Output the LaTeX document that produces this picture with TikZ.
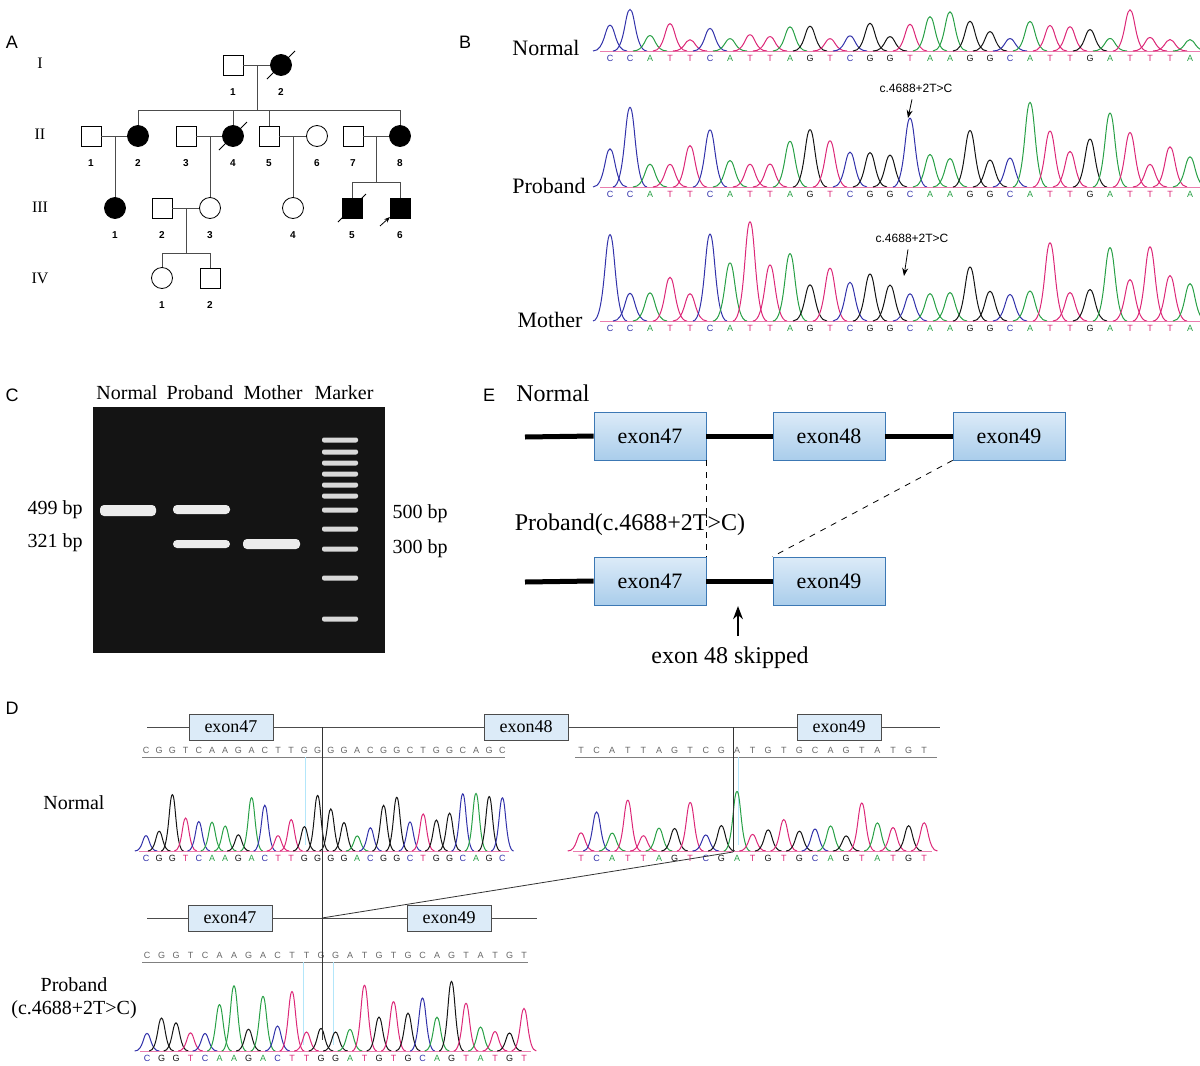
\documentclass[tikz,border=0pt]{standalone}
\usepackage{fontspec}
\setmainfont{Liberation Serif}
\setsansfont{Liberation Sans}
\usetikzlibrary{positioning,arrows.meta,shapes.geometric}

\definecolor{baseA}{RGB}{40,160,70}
\definecolor{baseC}{RGB}{50,50,170}
\definecolor{baseG}{RGB}{20,20,20}
\definecolor{baseT}{RGB}{220,40,120}
\definecolor{exonfill}{RGB}{170,205,235}
\definecolor{exonline}{RGB}{60,120,180}
\definecolor{exonpale}{RGB}{220,235,248}

\tikzset{
  panel/.style={font=\sffamily\small},
  male/.style={draw, minimum size=10pt, inner sep=0pt},
  female/.style={draw, circle, minimum size=10.5pt, inner sep=0pt},
  aff/.style={fill=black},
  idx/.style={font=\sffamily\bfseries\fontsize{5}{5}\selectfont},
  gen/.style={font=\fontsize{8}{8}\selectfont},
  exonE/.style={draw=exonline, top color=exonpale, bottom color=exonfill, minimum width=56pt, minimum height=24pt, font=\fontsize{11}{11}\selectfont},
  exonD/.style={draw=black!70, fill=exonpale, minimum width=42pt, minimum height=13pt, inner sep=1pt, font=\fontsize{9}{9}\selectfont},
  band/.style={fill=white!85!gray, rounded corners=2pt, draw=none},
  lbl/.style={font=\fontsize{10}{10}\selectfont},
}

% x0, step, baseline, max height, sequence, seed
\newcommand{\chromo}[6]{%
  \pgfmathsetseed{#6}%
  \foreach \nt [count=\i] in {#5} {%
    \pgfmathsetmacro\px{#1+(\i-1)*#2}%
    \pgfmathsetmacro\ph{#4*(0.25+0.75*rnd^2)}%
    \pgfmathsetmacro\pw{#2*0.85}%
    \draw[base\nt, line width=0.5pt] (\px-\pw,#3) .. controls (\px-0.3*\pw,#3) and (\px-0.3*\pw,#3-\ph) .. (\px,#3-\ph)
      .. controls (\px+0.3*\pw,#3-\ph) and (\px+0.3*\pw,#3) .. (\px+\pw,#3);
    \draw[baseT!60, line width=0.4pt] (\px-0.5*#2,#3) -- (\px+0.5*#2,#3);
    \node[text=base\nt, font=\sffamily\fontsize{4.5}{4.5}\selectfont, inner sep=0pt] at (\px,#3+7) {\nt};
  }%
}
% x0, step, y, sequence
\newcommand{\seqline}[4]{%
  \foreach \nt [count=\i] in {#4} {%
    \node[text=black!60, font=\sffamily\fontsize{4.5}{4.5}\selectfont, inner sep=0pt] at ({#1+(\i-1)*#2},#3) {\nt};
  }%
}

\begin{document}
\begin{tikzpicture}[x=0.5pt, y=-0.5pt, >=Stealth]
\useasboundingbox (0,0) rectangle (1200,1066);

% panel letters
\node[panel] (pa) at (12,42) {A};
\node[panel] (pb) at (465,42) {B};
\node[panel] (pc) at (12,395) {C};
\node[panel] (pe) at (489,395) {E};
\node[panel] (pd) at (12,708) {D};

% ---------- A: pedigree ----------
\node[gen] (g1) at (40,63) {I};
\node[gen] (g2) at (40,134) {II};
\node[gen] (g3) at (40,207) {III};
\node[gen] (g4) at (40,278) {IV};

\node[male] (i1) at (233,65) {};
\node[female, aff] (i2) at (281,65) {};
\node[male] (ii1) at (91,136) {};
\node[female, aff] (ii2) at (138,136) {};
\node[male] (ii3) at (186,136) {};
\node[female, aff] (ii4) at (233,136) {};
\node[male] (ii5) at (269,136) {};
\node[female] (ii6) at (317,136) {};
\node[male] (ii7) at (353,136) {};
\node[female, aff] (ii8) at (400,136) {};
\node[female, aff] (iii1) at (115,208) {};
\node[male] (iii2) at (162,208) {};
\node[female] (iii3) at (210,208) {};
\node[female] (iii4) at (293,208) {};
\node[male, aff] (iii5) at (352,208) {};
\node[male, aff] (iii6) at (400,208) {};
\node[female] (iv1) at (162,278) {};
\node[male] (iv2) at (210,278) {};

\foreach \p/\t in {i1/1,i2/2,ii1/1,ii2/2,ii3/3,ii4/4,ii5/5,ii6/6,ii7/7,ii8/8,iii1/1,iii2/2,iii3/3,iii4/4,iii5/5,iii6/6,iv1/1,iv2/2}
  \node[idx, below=3pt of \p] {\t};

\begin{scope}[draw=black!70]
\draw (i1) -- (i2);
\draw (257,65) -- (257,110);
\draw (138,110) -- (400,110);
\foreach \c in {ii2,ii4,ii5,ii8} \draw (\c |- 0,110) -- (\c);
\draw (ii1) -- (ii2); \draw (115,136) -- (iii1);
\draw (ii3) -- (ii4); \draw (210,136) -- (iii3);
\draw (ii5) -- (ii6); \draw (293,136) -- (iii4);
\draw (ii7) -- (ii8); \draw (376,136) -- (376,182);
\draw (352,182) -- (400,182);
\draw (352,182) -- (iii5); \draw (400,182) -- (iii6);
\draw (iii2) -- (iii3); \draw (186,208) -- (186,253);
\draw (162,253) -- (210,253);
\draw (162,253) -- (iv1); \draw (210,253) -- (iv2);
\end{scope}
% deceased
\foreach \p in {i2,ii4,iii5} \draw ([shift={(-14,14)}]\p.center) -- ([shift={(14,-14)}]\p.center);
% proband
\draw[->, >={Stealth[length=3pt]}] (380,226) -- (390,217);

% ---------- B: chromatograms ----------
\node[lbl, font=\fontsize{11}{11}\selectfont] (bn) at (546,48) {Normal};
\node[lbl, font=\fontsize{11}{11}\selectfont] (bp) at (549,186) {Proband};
\node[lbl, font=\fontsize{11}{11}\selectfont] (bm) at (550,320) {Mother};
\chromo{610}{20}{51}{45}{C,C,A,T,T,C,A,T,T,A,G,T,C,G,G,T,A,A,G,G,C,A,T,T,G,A,T,T,T,A}{11}
\chromo{610}{20}{187}{90}{C,C,A,T,T,C,A,T,T,A,G,T,C,G,G,C,A,A,G,G,C,A,T,T,G,A,T,T,T,A}{5}
\chromo{610}{20}{321}{105}{C,C,A,T,T,C,A,T,T,A,G,T,C,G,G,C,A,A,G,G,C,A,T,T,G,A,T,T,T,A}{7}
\node[font=\sffamily\fontsize{6}{6}\selectfont] (mp) at (916,88) {c.4688+2T>C};
\draw[->, >={Stealth[length=4pt]}] (mp.south) ++(-4,0) -- (908,118);
\node[font=\sffamily\fontsize{6}{6}\selectfont] (mm) at (912,238) {c.4688+2T>C};
\draw[->, >={Stealth[length=4pt]}] (mm.south) ++(-4,0) -- (904,276);

% ---------- C: gel ----------
\fill[black!92] (93,407) rectangle (385,653);
\node[lbl] (ln) at (127,393) {Normal};
\node[lbl] (lp) at (200,393) {Proband};
\node[lbl] (lm) at (273,393) {Mother};
\node[lbl] (lk) at (344,393) {Marker};
\fill[band] (100,505) rectangle (156,516);
\fill[band] (173,505) rectangle (230,514);
\fill[band] (173,540) rectangle (230,548);
\fill[band] (243,539) rectangle (300,549);
\foreach \y in {440,452,463,474,485,496,510,529,549,578,619}
  \fill[white!70!gray, rounded corners=1pt] (322,\y-2.5) rectangle (358,\y+2.5);
\node[lbl] (l499) at (55,510) {499 bp};
\node[lbl] (l321) at (55,543) {321 bp};
\node[lbl] (l500) at (420,514) {500 bp};
\node[lbl] (l300) at (420,549) {300 bp};

% ---------- E: splicing ----------
\node[lbl, font=\fontsize{12}{12}\selectfont] (en) at (553,393) {Normal};
\node[exonE] (e47) at (650,436) {exon47};
\node[exonE] (e48) at (829,436) {exon48};
\node[exonE] (e49) at (1009,436) {exon49};
\coordinate (el0) at (525,437);
\draw[line width=2.5pt] (el0) -- (e47.west);
\draw[line width=2.5pt] (e47) -- (e48);
\draw[line width=2.5pt] (e48) -- (e49);
\node[lbl, font=\fontsize{12}{12}\selectfont] (ep) at (630,525) {Proband(c.4688+2T>C)};
\node[exonE] (p47) at (650,581) {exon47};
\node[exonE] (p49) at (829,581) {exon49};
\coordinate (pl0) at (525,582);
\draw[line width=2.5pt] (pl0) -- (p47.west);
\draw[line width=2.5pt] (p47) -- (p49);
\draw[dashed] (e47.south east) -- (p47.north east);
\draw[dashed] (e49.south west) -- (p49.north west);
\node[lbl, font=\fontsize{12}{12}\selectfont] (sk) at (730,658) {exon 48 skipped};
\draw[->, line width=0.8pt] (sk.north) ++(8,-4) -- ++(0,-30);

% ---------- D: cDNA sequencing ----------
\node[lbl] (dn) at (74,803) {Normal};
\node[lbl] (dp) at (74,985) {Proband};
\node[lbl] (dq) at (74,1010) {(c.4688+2T>C)};
\coordinate (dt0) at (147,727);
\coordinate (dt1) at (940,727);
\draw[black!70] (dt0) -- (dt1);
\node[exonD] (d47) at (231,727) {exon47};
\node[exonD] (d48) at (526,727) {exon48};
\node[exonD] (d49) at (839,727) {exon49};
\coordinate (db0) at (147,918);
\coordinate (db1) at (537,918);
\draw[black!70] (db0) -- (db1);
\node[exonD] (b47) at (230,918) {exon47};
\node[exonD] (b49) at (449,918) {exon49};

\seqline{146}{13.2}{750}{C,G,G,T,C,A,A,G,A,C,T,T,G,G,G,G,A,C,G,G,C,T,G,G,C,A,G,C}
\draw[black!50] (142,757) -- (505,757);
\seqline{581}{15.6}{750}{T,C,A,T,T,A,G,T,C,G,A,T,G,T,G,C,A,G,T,A,T,G,T}
\draw[black!50] (575,757) -- (937,757);
\seqline{147}{14.5}{955}{C,G,G,T,C,A,A,G,A,C,T,T,G,G,A,T,G,T,G,C,A,G,T,A,T,G,T}
\draw[black!50] (142,962) -- (528,962);

\draw[cyan!30] (305,757) -- (305,845);
\draw[cyan!30] (738,757) -- (738,845);
\draw[cyan!30] (303,962) -- (303,1045);
\draw[cyan!30] (333,962) -- (333,1045);

\chromo{146}{13.2}{851}{60}{C,G,G,T,C,A,A,G,A,C,T,T,G,G,G,G,A,C,G,G,C,T,G,G,C,A,G,C}{3}
\chromo{581}{15.6}{851}{60}{T,C,A,T,T,A,G,T,C,G,A,T,G,T,G,C,A,G,T,A,T,G,T}{9}
\chromo{147}{14.5}{1051}{70}{C,G,G,T,C,A,A,G,A,C,T,T,G,G,A,T,G,T,G,C,A,G,T,A,T,G,T}{13}

\coordinate (v1t) at (322,727);
\coordinate (v1b) at (322,1040);
\coordinate (v2t) at (733,727);
\coordinate (v2b) at (733,852);
\coordinate (vj) at (322,918);
\draw[black!80] (v1t) -- (v1b);
\draw[black!80] (v2t) -- (v2b);
\draw[black!80] (v2b) -- (vj);
\end{tikzpicture}
\end{document}
